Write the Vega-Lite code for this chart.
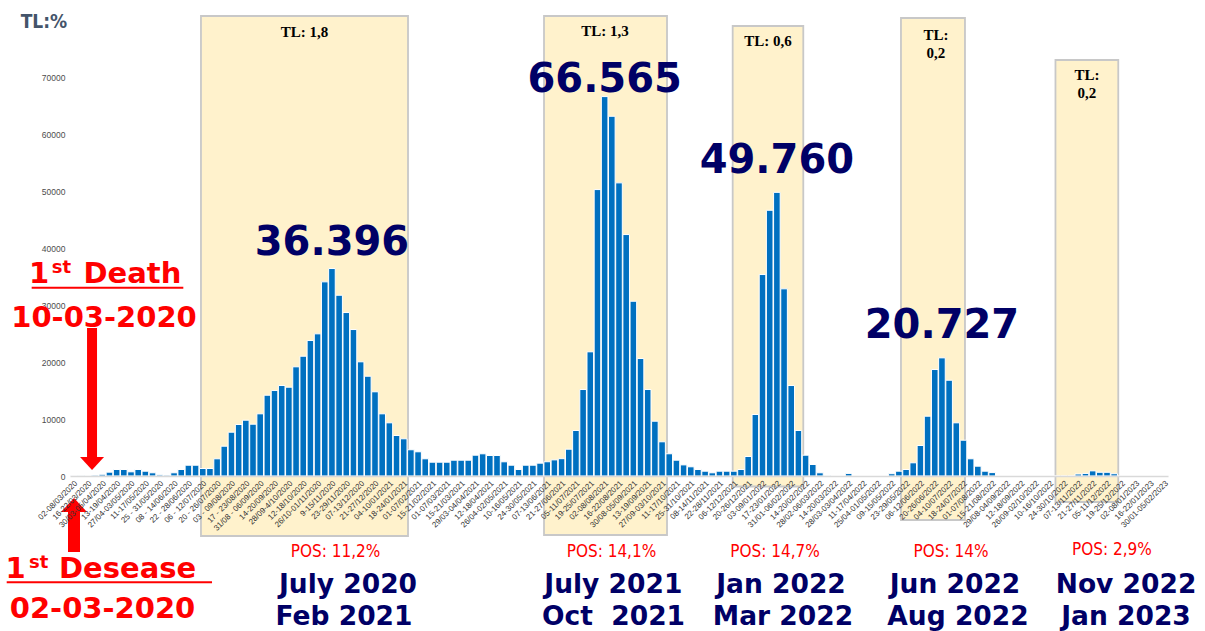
{
  "$schema": "https://vega.github.io/schema/vega-lite/v6.json",
  "width": 1098,
  "height": 456,
  "autosize": {"type": "none"},
  "padding": {"left": 70, "top": 20, "right": 37, "bottom": 155},
  "background": "white",
  "config": {"view": {"stroke": null}},
  "datasets": {
    "weeks": [
      {"week": "02-08/03/2020", "value": 10},
      {"week": "09-15/03/2020", "value": 30},
      {"week": "16-22/03/2020", "value": 80},
      {"week": "23-29/03/2020", "value": 150},
      {"week": "30/03-05/04/2020", "value": 300},
      {"week": "06-12/04/2020", "value": 670},
      {"week": "13-19/04/2020", "value": 1140},
      {"week": "20-26/04/2020", "value": 1140},
      {"week": "27/04-03/05/2020", "value": 730},
      {"week": "04-10/05/2020", "value": 1140},
      {"week": "11-17/05/2020", "value": 840},
      {"week": "18-24/05/2020", "value": 560},
      {"week": "25 - 31/05/2020", "value": 200},
      {"week": "01 - 07/06/2020", "value": 150},
      {"week": "08 - 14/06/2020", "value": 560},
      {"week": "15 - 21/06/2020", "value": 1140},
      {"week": "22 - 28/06/2020", "value": 1890},
      {"week": "29/06 - 05/07/2020", "value": 1890},
      {"week": "06 - 12/07/2020", "value": 1316},
      {"week": "13 - 19/07/2020", "value": 1316},
      {"week": "20 - 26/07/2020", "value": 3017},
      {"week": "27/07 - 02/08/2020", "value": 5227},
      {"week": "03 - 09/08/2020", "value": 7683},
      {"week": "10 - 16/08/2020", "value": 9033},
      {"week": "17 - 23/08/2020", "value": 9787},
      {"week": "24 - 30/08/2020", "value": 9086},
      {"week": "31/08 - 06/09/2020", "value": 10910},
      {"week": "07-13/09/2020", "value": 14172},
      {"week": "14-20/09/2020", "value": 14997},
      {"week": "21-27/09/2020", "value": 15874},
      {"week": "28/09-4/10/2020", "value": 15576},
      {"week": "05-11/10/2020", "value": 19153},
      {"week": "12-18/10/2020", "value": 21013},
      {"week": "19-25/10/2020", "value": 23767},
      {"week": "26/10-01/11/2020", "value": 24941},
      {"week": "2-8/11/2020", "value": 34062},
      {"week": "9-15/11/2020", "value": 36396},
      {"week": "16-22/11/2020", "value": 31712},
      {"week": "23-29/11/2020", "value": 28678},
      {"week": "30/11-06/12/2020", "value": 25696},
      {"week": "07-13/12/2020", "value": 20031},
      {"week": "14-20/12/2020", "value": 17505},
      {"week": "21-27/12/2020", "value": 14770},
      {"week": "28/12/2020-03/01/2021", "value": 10910},
      {"week": "04-10/01/2021", "value": 9331},
      {"week": "11-17/01/2021", "value": 7104},
      {"week": "18-24/01/2021", "value": 6525},
      {"week": "25-31/01/2021", "value": 4600},
      {"week": "01-07/02/2021", "value": 4245},
      {"week": "08-14/02/2021", "value": 3017},
      {"week": "15-21/02/2021", "value": 2420},
      {"week": "22-28/02/2021", "value": 2420},
      {"week": "01-07/03/2021", "value": 2420},
      {"week": "08-14/03/2021", "value": 2771},
      {"week": "15-21/03/2021", "value": 2771},
      {"week": "22-28/03/2021", "value": 2771},
      {"week": "29/03-04/04/2021", "value": 3648},
      {"week": "05-11/04/2021", "value": 3894},
      {"week": "12-18/04/2021", "value": 3596},
      {"week": "19-25/04/2021", "value": 3596},
      {"week": "26/04-02/05/2021", "value": 2490},
      {"week": "03-09/05/2021", "value": 1894},
      {"week": "10-16/05/2021", "value": 1140},
      {"week": "17-23/05/2021", "value": 1894},
      {"week": "24-30/05/2021", "value": 1894},
      {"week": "31/05-06/06/2021", "value": 2250},
      {"week": "07-13/06/2021", "value": 2500},
      {"week": "14-20/06/2021", "value": 2830},
      {"week": "21-27/06/2021", "value": 3040},
      {"week": "28/06-04/07/2021", "value": 4700},
      {"week": "05-11/07/2021", "value": 7981},
      {"week": "12-18/07/2021", "value": 15172},
      {"week": "19-25/07/2021", "value": 21785},
      {"week": "26/07-01/08/2021", "value": 50252},
      {"week": "02-08/08/2021", "value": 66565},
      {"week": "09-15/08/2021", "value": 63110},
      {"week": "16-22/08/2021", "value": 51427},
      {"week": "23-29/08/2021", "value": 42359},
      {"week": "30/08-05/09/2021", "value": 30660},
      {"week": "06-12/09/2021", "value": 20610},
      {"week": "13-19/09/2021", "value": 15172},
      {"week": "20-26/09/2021", "value": 9612},
      {"week": "27/09-03/10/2021", "value": 5998},
      {"week": "04-10/10/2021", "value": 3900},
      {"week": "11-17/10/2021", "value": 2771},
      {"week": "18-24/10/2021", "value": 1950},
      {"week": "25-31/10/2021", "value": 1614},
      {"week": "01-07/11/2021", "value": 1140},
      {"week": "08-14/11/2021", "value": 842},
      {"week": "15-21/11/2021", "value": 561},
      {"week": "22-28/11/2021", "value": 842},
      {"week": "29/11-05/12/2021", "value": 842},
      {"week": "06-12/12/2021", "value": 842},
      {"week": "13-19/12/2021", "value": 1140},
      {"week": "20-26/12/2021", "value": 3420},
      {"week": "27/12/2021-02/01/2022", "value": 10787},
      {"week": "03-09/01/2022", "value": 35343},
      {"week": "10-16/01/2022", "value": 46620},
      {"week": "17-23/01/2022", "value": 49760},
      {"week": "24-30/01/2022", "value": 32835},
      {"week": "31/01-06/02/2022", "value": 15874},
      {"week": "07-13/02/2022", "value": 7981},
      {"week": "14-20/02/2022", "value": 3648},
      {"week": "21-27/02/2022", "value": 2017},
      {"week": "28/02-06/03/2022", "value": 561},
      {"week": "07-13/03/2022", "value": 100},
      {"week": "14-20/03/2022", "value": 0},
      {"week": "21-27/03/2022", "value": 0},
      {"week": "28/03-03/04/2022", "value": 450},
      {"week": "04-10/04/2022", "value": 0},
      {"week": "11-17/04/2022", "value": 0},
      {"week": "18-24/04/2022", "value": 0},
      {"week": "25/04-01/05/2022", "value": 0},
      {"week": "02-08/05/2022", "value": 0},
      {"week": "09-15/05/2022", "value": 400},
      {"week": "16-22/05/2022", "value": 842},
      {"week": "23-29/05/2022", "value": 1140},
      {"week": "30/05-05/06/2022", "value": 2315},
      {"week": "06-12/06/2022", "value": 5350},
      {"week": "13-19/06/2022", "value": 10490},
      {"week": "20-26/06/2022", "value": 18680},
      {"week": "27/06-03/07/2022", "value": 20727},
      {"week": "04-10/07/2022", "value": 16800},
      {"week": "11-17/07/2022", "value": 9330},
      {"week": "18-24/07/2022", "value": 6280},
      {"week": "25-31/07/2022", "value": 3017},
      {"week": "01-07/08/2022", "value": 1720},
      {"week": "08-14/08/2022", "value": 842},
      {"week": "15-21/08/2022", "value": 600},
      {"week": "22-28/08/2022", "value": 0},
      {"week": "29/08-04/09/2022", "value": 0},
      {"week": "05-11/09/2022", "value": 0},
      {"week": "12-18/09/2022", "value": 0},
      {"week": "19-25/09/2022", "value": 0},
      {"week": "26/09-02/10/2022", "value": 0},
      {"week": "03-09/10/2022", "value": 0},
      {"week": "10-16/10/2022", "value": 0},
      {"week": "17-23/10/2022", "value": 0},
      {"week": "24-30/10/2022", "value": 0},
      {"week": "31/10-06/11/2022", "value": 0},
      {"week": "07-13/11/2022", "value": 350},
      {"week": "14-20/11/2022", "value": 450},
      {"week": "21-27/11/2022", "value": 900},
      {"week": "28/11-04/12/2022", "value": 650},
      {"week": "05-11/12/2022", "value": 650},
      {"week": "12-18/12/2022", "value": 400},
      {"week": "19-25/12/2022", "value": 0},
      {"week": "26/12/2022-01/01/2023", "value": 0},
      {"week": "02-08/01/2023", "value": 0},
      {"week": "09-15/01/2023", "value": 0},
      {"week": "16-22/01/2023", "value": 0},
      {"week": "23-29/01/2023", "value": 0},
      {"week": "30/01-05/02/2023", "value": 0}
    ],
    "boxes": [
      {"q0": 18.25, "q1": 47.1, "v0": -10526, "v1": 80702},
      {"q0": 66.05, "q1": 83.19, "v0": -10351, "v1": 80702},
      {"q0": 92.34, "q1": 102.18, "v0": -1842, "v1": 78948},
      {"q0": 115.79, "q1": 124.71, "v0": -7719, "v1": 80352},
      {"q0": 137.32, "q1": 146.07, "v0": -4561, "v1": 72983}
    ],
    "tl": [
      {"q": 32.68, "v": 77071, "t": "TL: 1,8"},
      {"q": 74.55, "v": 77194, "t": "TL: 1,3"},
      {"q": 97.26, "v": 75439, "t": "TL: 0,6"},
      {"q": 120.67, "v": 76492, "t": "TL:"},
      {"q": 120.67, "v": 73334, "t": "0,2"},
      {"q": 141.71, "v": 69474, "t": "TL:"},
      {"q": 141.71, "v": 66316, "t": "0,2"}
    ],
    "peaks": [
      {"q": 36.5, "v": 38772, "t": "36.396"},
      {"q": 74.5, "v": 67423, "t": "66.565"},
      {"q": 98.5, "v": 53071, "t": "49.760"},
      {"q": 121.5, "v": 24158, "t": "20.727"}
    ],
    "pos": [
      {"q": 37.0, "v": -14123, "t": "POS: 11,2%"},
      {"q": 75.45, "v": -14123, "t": "POS: 14,1%"},
      {"q": 98.24, "v": -14123, "t": "POS: 14,7%"},
      {"q": 122.76, "v": -14123, "t": "POS: 14%"},
      {"q": 145.19, "v": -13772, "t": "POS: 2,9%"}
    ],
    "periods": [
      {"q": 38.74, "v": -20579, "t": "July 2020"},
      {"q": 38.18, "v": -26088, "t": "Feb 2021"},
      {"q": 75.71, "v": -20579, "t": "July 2021"},
      {"q": 75.73, "v": -26088, "t": "Oct \u00a02021"},
      {"q": 99.07, "v": -20579, "t": "Jan 2022"},
      {"q": 99.35, "v": -26088, "t": "Mar 2022"},
      {"q": 123.32, "v": -20579, "t": "Jun 2022"},
      {"q": 123.74, "v": -26088, "t": "Aug 2022"},
      {"q": 147.15, "v": -20579, "t": "Nov 2022"},
      {"q": 147.15, "v": -26088, "t": "Jan 2023"}
    ],
    "redLeft": [
      {"q": -5.71, "v": 33860, "t": "1"},
      {"q": 1.88, "v": 33860, "t": "Death"},
      {"q": -8.99, "v": -17895, "t": "1"},
      {"q": -1.53, "v": -17895, "t": "Desease"}
    ],
    "redSup": [
      {"q": -2.55, "v": 35562, "t": "st"},
      {"q": -5.71, "v": -16193, "t": "st"}
    ],
    "redDates": [
      {"q": 4.74, "v": 26193, "t": "10-03-2020"},
      {"q": 4.53, "v": -24912, "t": "02-03-2020"}
    ],
    "underlines": [
      {"q0": -5.34, "q1": 15.79, "v": 33035},
      {"q0": -8.82, "q1": 19.79, "v": -18649}
    ],
    "downArrow": [{"q": 3.07, "v0": 25965, "v1": 3158, "vh": 2193}],
    "upArrow": [{"q": 0.56, "v0": -13333, "v1": -6140, "vh": -5088}],
    "corner": [{"q": -6.87, "v": 78544, "t": "TL:%"}]
  },
  "resolve": {"scale": {"x": "independent", "y": "independent"}},
  "layer": [
    {
      "data": {"name": "boxes"},
      "mark": {"type": "rect", "fill": "#FFF2CC", "stroke": "#C8C8C8", "strokeWidth": 1.8},
      "encoding": {
        "x": {"field": "q0", "type": "quantitative", "scale": {"domain": [0, 153], "nice": false, "zero": false}, "axis": null},
        "x2": {"field": "q1"},
        "y": {"field": "v0", "type": "quantitative", "scale": {"domain": [0, 80000], "nice": false, "zero": false}, "axis": null},
        "y2": {"field": "v1"}
      }
    },
    {
      "data": {"name": "weeks"},
      "mark": {"type": "bar", "color": "#0070C0", "stroke": "white", "strokeWidth": 1},
      "encoding": {
        "x": {
          "field": "week", "type": "ordinal", "sort": null,
          "scale": {"paddingInner": 0.08, "paddingOuter": 0.04},
          "axis": {
            "title": null, "labelAngle": -45, "labelFontSize": 8, "labelFont": "Liberation Sans",
            "labelColor": "#333333", "ticks": false, "domainColor": "#D9D9D9", "domainWidth": 1.5,
            "labelPadding": 3, "zindex": 1, "labelOverlap": false,
            "values": ["02-08/03/2020","16-22/03/2020","30/03-05/04/2020","13-19/04/2020","27/04-03/05/2020","11-17/05/2020","25 - 31/05/2020","08 - 14/06/2020","22 - 28/06/2020","06 - 12/07/2020","20 - 26/07/2020","03 - 09/08/2020","17 - 23/08/2020","31/08 - 06/09/2020","14-20/09/2020","28/09-4/10/2020","12-18/10/2020","26/10-01/11/2020","9-15/11/2020","23-29/11/2020","07-13/12/2020","21-27/12/2020","04-10/01/2021","18-24/01/2021","01-07/02/2021","15-21/02/2021","01-07/03/2021","15-21/03/2021","29/03-04/04/2021","12-18/04/2021","26/04-02/05/2021","10-16/05/2021","24-30/05/2021","07-13/06/2021","21-27/06/2021","05-11/07/2021","19-25/07/2021","02-08/08/2021","16-22/08/2021","30/08-05/09/2021","13-19/09/2021","27/09-03/10/2021","11-17/10/2021","25-31/10/2021","08-14/11/2021","22-28/11/2021","06-12/12/2021","20-26/12/2021","03-09/01/2022","17-23/01/2022","31/01-06/02/2022","14-20/02/2022","28/02-06/03/2022","14-20/03/2022","28/03-03/04/2022","11-17/04/2022","25/04-01/05/2022","09-15/05/2022","23-29/05/2022","06-12/06/2022","20-26/06/2022","04-10/07/2022","18-24/07/2022","01-07/08/2022","15-21/08/2022","29/08-04/09/2022","12-18/09/2022","26/09-02/10/2022","10-16/10/2022","24-30/10/2022","07-13/11/2022","21-27/11/2022","05-11/12/2022","19-25/12/2022","02-08/01/2023","16-22/01/2023","30/01-05/02/2023"]
          }
        },
        "y": {
          "field": "value", "type": "quantitative",
          "scale": {"domain": [0, 80000], "nice": false, "zero": false},
          "axis": {
            "title": null, "values": [0, 10000, 20000, 30000, 40000, 50000, 60000, 70000], "format": "d",
            "labelFontSize": 8.5, "labelFont": "Liberation Sans", "labelColor": "#4D4D4D",
            "ticks": false, "domain": false, "grid": false, "labelPadding": 5, "zindex": 0
          }
        }
      }
    },
    {
      "data": {"name": "tl"},
      "mark": {"type": "text", "font": "Liberation Serif", "fontWeight": "bold", "fontSize": 15, "color": "#000000", "align": "center", "baseline": "alphabetic"},
      "encoding": {
        "x": {"field": "q", "type": "quantitative", "scale": {"domain": [0, 153], "nice": false, "zero": false}, "axis": null},
        "y": {"field": "v", "type": "quantitative", "scale": {"domain": [0, 80000], "nice": false, "zero": false}, "axis": null},
        "text": {"field": "t"}
      }
    },
    {
      "data": {"name": "peaks"},
      "mark": {"type": "text", "font": "DejaVu Sans", "fontWeight": "bold", "fontSize": 40, "color": "#000066", "align": "center", "baseline": "alphabetic"},
      "encoding": {
        "x": {"field": "q", "type": "quantitative", "scale": {"domain": [0, 153], "nice": false, "zero": false}, "axis": null},
        "y": {"field": "v", "type": "quantitative", "scale": {"domain": [0, 80000], "nice": false, "zero": false}, "axis": null},
        "text": {"field": "t"}
      }
    },
    {
      "data": {"name": "pos"},
      "mark": {"type": "text", "font": "DejaVu Sans Condensed, sans-serif", "fontSize": 17, "color": "#FF0000", "align": "center", "baseline": "alphabetic"},
      "encoding": {
        "x": {"field": "q", "type": "quantitative", "scale": {"domain": [0, 153], "nice": false, "zero": false}, "axis": null},
        "y": {"field": "v", "type": "quantitative", "scale": {"domain": [0, 80000], "nice": false, "zero": false}, "axis": null},
        "text": {"field": "t"}
      }
    },
    {
      "data": {"name": "periods"},
      "mark": {"type": "text", "font": "DejaVu Sans", "fontWeight": "bold", "fontSize": 26.5, "color": "#000066", "align": "center", "baseline": "alphabetic"},
      "encoding": {
        "x": {"field": "q", "type": "quantitative", "scale": {"domain": [0, 153], "nice": false, "zero": false}, "axis": null},
        "y": {"field": "v", "type": "quantitative", "scale": {"domain": [0, 80000], "nice": false, "zero": false}, "axis": null},
        "text": {"field": "t"}
      }
    },
    {
      "data": {"name": "redLeft"},
      "mark": {"type": "text", "font": "DejaVu Sans", "fontWeight": "bold", "fontSize": 29, "color": "#FF0000", "align": "left", "baseline": "alphabetic"},
      "encoding": {
        "x": {"field": "q", "type": "quantitative", "scale": {"domain": [0, 153], "nice": false, "zero": false}, "axis": null},
        "y": {"field": "v", "type": "quantitative", "scale": {"domain": [0, 80000], "nice": false, "zero": false}, "axis": null},
        "text": {"field": "t"}
      }
    },
    {
      "data": {"name": "redSup"},
      "mark": {"type": "text", "font": "DejaVu Sans", "fontWeight": "bold", "fontSize": 18, "color": "#FF0000", "align": "left", "baseline": "alphabetic"},
      "encoding": {
        "x": {"field": "q", "type": "quantitative", "scale": {"domain": [0, 153], "nice": false, "zero": false}, "axis": null},
        "y": {"field": "v", "type": "quantitative", "scale": {"domain": [0, 80000], "nice": false, "zero": false}, "axis": null},
        "text": {"field": "t"}
      }
    },
    {
      "data": {"name": "redDates"},
      "mark": {"type": "text", "font": "DejaVu Sans", "fontWeight": "bold", "fontSize": 29, "color": "#FF0000", "align": "center", "baseline": "alphabetic"},
      "encoding": {
        "x": {"field": "q", "type": "quantitative", "scale": {"domain": [0, 153], "nice": false, "zero": false}, "axis": null},
        "y": {"field": "v", "type": "quantitative", "scale": {"domain": [0, 80000], "nice": false, "zero": false}, "axis": null},
        "text": {"field": "t"}
      }
    },
    {
      "data": {"name": "underlines"},
      "mark": {"type": "rule", "color": "#FF0000", "strokeWidth": 2},
      "encoding": {
        "x": {"field": "q0", "type": "quantitative", "scale": {"domain": [0, 153], "nice": false, "zero": false}, "axis": null},
        "x2": {"field": "q1"},
        "y": {"field": "v", "type": "quantitative", "scale": {"domain": [0, 80000], "nice": false, "zero": false}, "axis": null}
      }
    },
    {
      "data": {"name": "downArrow"},
      "mark": {"type": "rule", "color": "#FF0000", "strokeWidth": 10, "strokeCap": "butt"},
      "encoding": {
        "x": {"field": "q", "type": "quantitative", "scale": {"domain": [0, 153], "nice": false, "zero": false}, "axis": null},
        "y": {"field": "v0", "type": "quantitative", "scale": {"domain": [0, 80000], "nice": false, "zero": false}, "axis": null},
        "y2": {"field": "v1"}
      }
    },
    {
      "data": {"name": "downArrow"},
      "mark": {"type": "point", "shape": "M-1,-0.55L1,-0.55L0,0.55Z", "filled": true, "color": "#FF0000", "opacity": 1, "size": 576},
      "encoding": {
        "x": {"field": "q", "type": "quantitative", "scale": {"domain": [0, 153], "nice": false, "zero": false}, "axis": null},
        "y": {"field": "vh", "type": "quantitative", "scale": {"domain": [0, 80000], "nice": false, "zero": false}, "axis": null}
      }
    },
    {
      "data": {"name": "upArrow"},
      "mark": {"type": "rule", "color": "#FF0000", "strokeWidth": 12, "strokeCap": "butt"},
      "encoding": {
        "x": {"field": "q", "type": "quantitative", "scale": {"domain": [0, 153], "nice": false, "zero": false}, "axis": null},
        "y": {"field": "v0", "type": "quantitative", "scale": {"domain": [0, 80000], "nice": false, "zero": false}, "axis": null},
        "y2": {"field": "v1"}
      }
    },
    {
      "data": {"name": "upArrow"},
      "mark": {"type": "point", "shape": "M-1,0.54L1,0.54L0,-0.54Z", "filled": true, "color": "#FF0000", "opacity": 1, "size": 676},
      "encoding": {
        "x": {"field": "q", "type": "quantitative", "scale": {"domain": [0, 153], "nice": false, "zero": false}, "axis": null},
        "y": {"field": "vh", "type": "quantitative", "scale": {"domain": [0, 80000], "nice": false, "zero": false}, "axis": null}
      }
    },
    {
      "data": {"name": "corner"},
      "mark": {"type": "text", "font": "DejaVu Sans Condensed, sans-serif", "fontWeight": "bold", "fontSize": 19, "color": "#44546A", "align": "left", "baseline": "alphabetic"},
      "encoding": {
        "x": {"field": "q", "type": "quantitative", "scale": {"domain": [0, 153], "nice": false, "zero": false}, "axis": null},
        "y": {"field": "v", "type": "quantitative", "scale": {"domain": [0, 80000], "nice": false, "zero": false}, "axis": null},
        "text": {"field": "t"}
      }
    }
  ]
}
